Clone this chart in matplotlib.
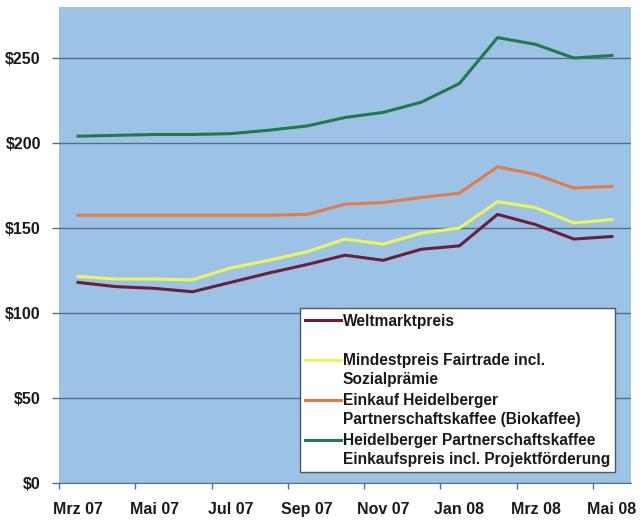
import matplotlib
matplotlib.use("Agg")
import matplotlib.pyplot as plt
import matplotlib.transforms as mtransforms
from matplotlib.legend_handler import HandlerLine2D
import numpy as np

months = ['Mrz 07', 'Apr 07', 'Mai 07', 'Jun 07', 'Jul 07', 'Aug 07', 'Sep 07', 'Okt 07',
          'Nov 07', 'Dez 07', 'Jan 08', 'Feb 08', 'Mrz 08', 'Apr 08', 'Mai 08']
weltmarkt = [118, 115.5, 114.5, 112.5, 118, 123.5, 128.5, 134, 131, 137.5, 139.5, 158, 152, 143.5, 145]
fairtrade = [121.5, 120, 120, 119.5, 126.5, 131, 136, 143.5, 140.5, 147, 150, 165.5, 162, 153, 155]
biokaffee = [157.5, 157.5, 157.5, 157.5, 157.5, 157.5, 158, 164, 165, 168, 170.5, 186, 181.5, 173.5, 174.5]
projekt = [204, 204.5, 205, 205, 205.5, 207.5, 210, 215, 218, 224, 235, 262, 258, 250, 251.5]

labels = ['Weltmarktpreis\n ',
          'Mindestpreis Fairtrade incl.\nSozialprämie',
          'Einkauf Heidelberger\nPartnerschaftskaffee (Biokaffee)',
          'Heidelberger Partnerschaftskaffee\nEinkaufspreis incl. Projektförderung']
colors = ['#6b1f3c', '#eef55a', '#e27a4c', '#1f7a4c']

plt.rcParams['font.family'] = 'Liberation Sans'
plt.rcParams['font.weight'] = 'bold'


class FirstLineHandler(HandlerLine2D):
    # put the legend line next to the first text line, like Excel does
    def __init__(self, shift, **kw):
        super().__init__(**kw)
        self.shift = shift

    def create_artists(self, legend, orig_handle, xdescent, ydescent, width, height, fontsize, trans):
        artists = super().create_artists(legend, orig_handle, xdescent, ydescent,
                                         width, height, fontsize, trans)
        off = mtransforms.Affine2D().translate(0, self.shift * fontsize)
        for a in artists:
            a.set_transform(off + trans)
        return artists


x = np.arange(len(months))
fig = plt.figure(figsize=(6.44, 5.22), dpi=100)
ax = fig.add_axes([59 / 644, 1 - 483 / 522, 572 / 644, 476 / 522])
ax.set_facecolor('#9cc3e5')

series = [weltmarkt, fairtrade, biokaffee, projekt]
handles = []
for vals, c, lab in zip(series, colors, labels):
    h, = ax.plot(x, vals, color=c, lw=2.2, label=lab, solid_joinstyle='round')
    handles.append(h)

ax.set_xlim(-0.5, len(months) - 0.5)
ax.set_ylim(0, 280)
ax.set_yticks([0, 50, 100, 150, 200, 250])
ax.set_yticklabels(['$0', '$50', '$100', '$150', '$200', '$250'])
ax.yaxis.grid(True, color='#4f6f8f', lw=1)
ax.set_axisbelow(True)

ax.set_xticks(x[::2])
ax.set_xticklabels(months[::2])
ax.set_xticks(np.arange(-0.5, len(months) - 1, 2), minor=True)
ax.tick_params(axis='x', which='major', length=0, pad=14, labelsize=11.5, colors='#1a1a1a')
ax.tick_params(axis='x', which='minor', length=4, width=1, color='#4f6f8f')
ax.tick_params(axis='y', length=5, width=1, color='#4f6f8f', pad=8, labelsize=11.5, labelcolor='#1a1a1a')

for s in ['left', 'right', 'top']:
    ax.spines[s].set_visible(False)
ax.spines['bottom'].set_color('#4f6f8f')

hm = {h: FirstLineHandler(0.67) for h in handles}
leg = ax.legend(handles=handles, loc='lower left', bbox_to_anchor=(0.421, 0.023),
                borderaxespad=0, fontsize=11.2, handlelength=2.3, handletextpad=0.1,
                labelspacing=0.4, borderpad=0.35, fancybox=False, framealpha=1,
                edgecolor='#555555', handler_map=hm)
leg.get_frame().set_linewidth(1)
for t in leg.get_texts():
    t.set_color('#1a1a1a')
    t.set_linespacing(1.3)

plt.savefig('out.png', dpi=100)
